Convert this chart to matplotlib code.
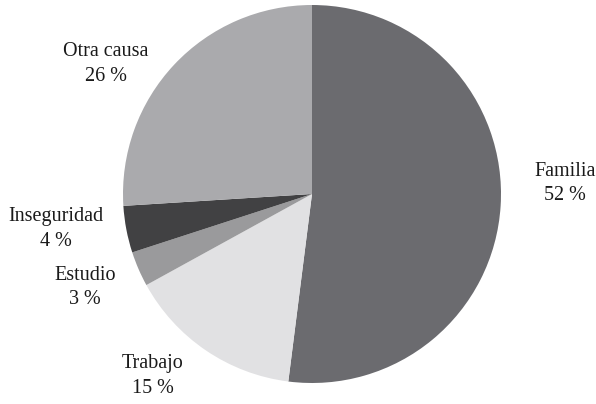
import numpy as np
import matplotlib.pyplot as plt

causas = ['Familia', 'Trabajo', 'Estudio', 'Inseguridad', 'Otra causa']
porcentajes = [52, 15, 3, 4, 26]
colores = ['#6b6b6f', '#e1e1e3', '#9a9a9c', '#414143', '#aaaaad']

# label placement: distance from centre (in radii) and angular nudge (deg)
dist_etiqueta = [1.34, 1.28, 1.30, 1.37, 1.29]
giro_etiqueta = [6, -7, -1, -3, 11]

plt.rcParams['font.family'] = ['Liberation Serif', 'DejaVu Serif']

fig = plt.figure(figsize=(5.96, 4.04), dpi=100)
ax = fig.add_axes([0, 0, 1, 1])

wedges, _ = ax.pie(porcentajes, colors=colores, startangle=90,
                   counterclock=False, radius=1,
                   wedgeprops=dict(linewidth=0))

for w, nombre, p, d, g in zip(wedges, causas, porcentajes,
                              dist_etiqueta, giro_etiqueta):
    ang = np.deg2rad((w.theta1 + w.theta2) / 2 + g)
    ax.text(d * np.cos(ang), d * np.sin(ang), f'{nombre}\n{p} %',
            ha='center', va='center', fontsize=14.5, linespacing=1.4,
            color='#1a1a1a')

r = 189
ax.set_xlim(-312 / r, (596 - 312) / r)
ax.set_ylim(-(404 - 194) / r, 194 / r)
ax.set_aspect('auto')
ax.axis('off')

fig.savefig('out.png', dpi=100)
